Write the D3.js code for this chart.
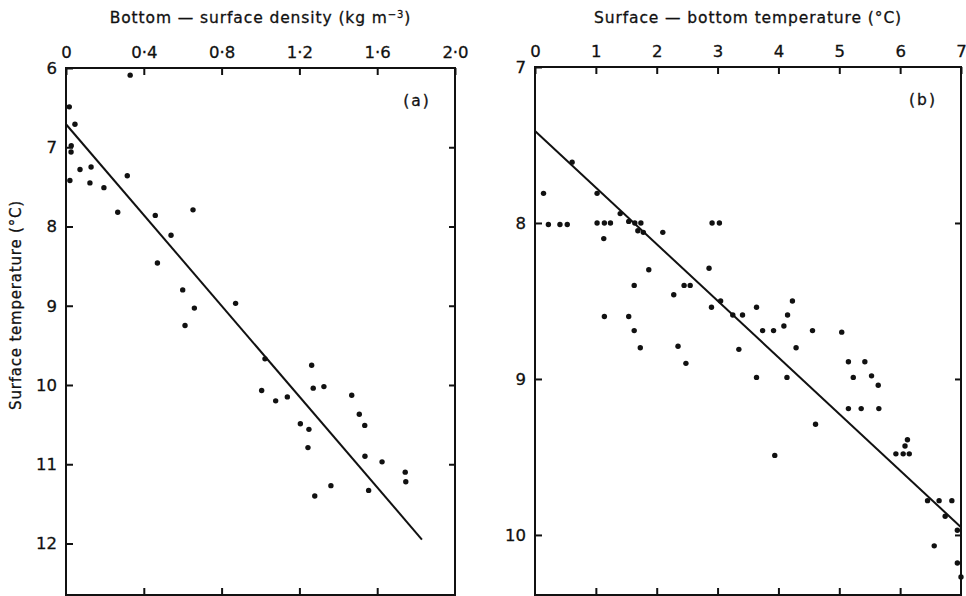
<!DOCTYPE html>
<html>
<head>
<meta charset="utf-8">
<script src="https://cdn.jsdelivr.net/npm/d3@7"></script>
<style>
body { margin: 0; background: #fff; }
svg text { font-family: "DejaVu Sans", sans-serif; fill: #111; stroke: #111; stroke-width: 0.3px; }
</style>
</head>
<body>
<script>
"use strict";

// panel (a): bottom - surface density (kg m-3) against surface temperature (C)
let densityDiff = [0.017, 0.046, 0.027, 0.026, 0.02, 0.072, 0.129, 0.123, 0.195, 0.315,
                   0.266, 0.459, 0.54, 0.653, 0.33, 0.47, 0.60, 0.66, 0.612, 0.872,
                   1.023, 1.263, 1.006, 1.078, 1.138, 1.271, 1.326, 1.469, 1.508, 1.536,
                   1.205, 1.249, 1.244, 1.537, 1.625, 1.744, 1.747, 1.362, 1.279, 1.556];
let surfTempA   = [6.49, 6.71, 6.98, 7.06, 7.42, 7.28, 7.25, 7.45, 7.51, 7.36,
                   7.82, 7.86, 8.11, 7.79, 6.09, 8.46, 8.8, 9.03, 9.25, 8.97,
                   9.67, 9.75, 10.07, 10.20, 10.15, 10.04, 10.02, 10.13, 10.37, 10.51,
                   10.49, 10.56, 10.79, 10.90, 10.97, 11.10, 11.22, 11.27, 11.40, 11.33];
let fitAx = [0, 1.83];
let fitAy = [6.71, 11.95];
let densityTicks = [0, 0.4, 0.8, 1.2, 1.6, 2.0];
let tempTicksA = [6, 7, 8, 9, 10, 11, 12];

// panel (b): surface - bottom temperature (C) against surface temperature (C)
let tempDiff  = [0.61, 0.14, 0.22, 0.41, 0.53, 1.02, 1.02, 1.14, 1.24, 1.13,
                 1.40, 1.54, 1.64, 1.74, 1.69, 1.78, 2.10, 2.91, 3.03, 1.87,
                 1.63, 2.86, 2.45, 2.55, 2.28, 2.90, 3.05, 1.14, 1.54,
                 3.25, 3.41, 3.64, 4.23, 3.74, 3.92, 4.09, 4.15, 3.35, 4.29,
                 4.56, 5.04, 3.64, 4.14, 5.15, 5.42, 5.23, 5.53, 5.64, 5.15,
                 5.36, 5.65, 4.61, 3.94, 5.93, 6.05, 6.15, 6.08, 6.12, 6.45,
                 6.64, 6.85, 6.74, 6.94, 6.56, 6.94, 7.0,
                 1.63, 1.73, 2.35, 2.48];
let surfTempB = [7.61, 7.81, 8.01, 8.01, 8.01, 7.81, 8.0, 8.0, 8.0, 8.10,
                 7.94, 7.99, 8.00, 8.00, 8.05, 8.06, 8.06, 8.0, 8.0, 8.30,
                 8.40, 8.29, 8.40, 8.40, 8.46, 8.54, 8.50, 8.60, 8.60,
                 8.59, 8.59, 8.54, 8.50, 8.69, 8.69, 8.66, 8.59, 8.81, 8.80,
                 8.69, 8.70, 8.99, 8.99, 8.89, 8.89, 8.99, 8.98, 9.04, 9.19,
                 9.19, 9.19, 9.29, 9.49, 9.48, 9.48, 9.48, 9.43, 9.39, 9.78,
                 9.78, 9.78, 9.88, 9.97, 10.07, 10.18, 10.27,
                 8.69, 8.80, 8.79, 8.90];
let fitBx = [0, 7];
let fitBy = [7.41, 9.95];
let diffTicks = [0, 1, 2, 3, 4, 5, 6, 7];
let tempTicksB = [7, 8, 9, 10];

let width = 966, height = 596;

let svg = d3.select("body").append("svg")
    .attr("width", width)
    .attr("height", height);

function fmtDecimal(d) {
    // old style raised decimal point
    return d === 0 ? "0" : d3.format(".1f")(d).replace(".", "\u00b7");
}

function styleAxis(g, fontSize) {
    g.select(".domain").remove();
    g.attr("font-family", null).attr("font-size", fontSize);
    g.selectAll("line").attr("stroke", "#111").attr("stroke-width", 2);
}

function panel(cfg) {
    let x = d3.scaleLinear().domain(cfg.xDomain).range([cfg.left, cfg.right]);
    let y = d3.scaleLinear().domain(cfg.yDomain).range([cfg.top, cfg.bottom]);
    let g = svg.append("g");

    // top axis with labels, ticks point inward
    g.append("g")
        .attr("transform", "translate(0," + cfg.top + ")")
        .call(d3.axisTop(x).tickValues(cfg.xTicks).tickSize(-7).tickPadding(10).tickFormat(cfg.xFormat))
        .call(a => styleAxis(a, 16.5));

    // bottom ticks only
    g.append("g")
        .attr("transform", "translate(0," + cfg.bottom + ")")
        .call(d3.axisBottom(x).tickValues(cfg.xTicks.slice(1, -1)).tickSize(-7).tickFormat(""))
        .call(a => styleAxis(a, 16));

    // left axis
    g.append("g")
        .attr("transform", "translate(" + cfg.left + ",0)")
        .call(d3.axisLeft(y).tickValues(cfg.yTicks).tickSize(-7).tickPadding(cfg.yPad).tickFormat(d3.format("d")))
        .call(a => styleAxis(a, 16.5));

    // right ticks only
    g.append("g")
        .attr("transform", "translate(" + cfg.right + ",0)")
        .call(d3.axisRight(y).tickValues(cfg.rightTicks).tickSize(-6).tickFormat(""))
        .call(a => styleAxis(a, 16));

    // frame
    g.append("rect")
        .attr("x", cfg.left)
        .attr("y", cfg.top)
        .attr("width", cfg.right - cfg.left)
        .attr("height", cfg.bottom - cfg.top)
        .attr("fill", "none")
        .attr("stroke", "#111")
        .attr("stroke-width", 2);

    // regression line
    let line = d3.line().x(d => x(d[0])).y(d => y(d[1]));
    g.append("path")
        .datum(d3.zip(cfg.fitX, cfg.fitY))
        .attr("d", line)
        .attr("fill", "none")
        .attr("stroke", "#111")
        .attr("stroke-width", 2);

    // points
    g.selectAll("circle")
        .data(d3.zip(cfg.xs, cfg.ys))
        .enter()
        .append("circle")
        .attr("cx", d => x(d[0]))
        .attr("cy", d => y(d[1]))
        .attr("r", 2.7)
        .attr("fill", "#111");

    // title above the top axis
    let title = g.append("text")
        .attr("x", (cfg.left + cfg.right) / 2)
        .attr("y", 23)
        .attr("text-anchor", "middle")
        .attr("font-size", 15.5)
        .attr("letter-spacing", 0.9)
        .text(cfg.title);
    if (cfg.titleSup) {
        title.append("tspan").attr("baseline-shift", "super").attr("font-size", 10).text(cfg.titleSup);
        title.append("tspan").text(")");
    }

    g.append("text")
        .attr("x", cfg.right - 38)
        .attr("y", cfg.top + 38)
        .attr("text-anchor", "middle")
        .attr("font-size", 15.5)
        .attr("letter-spacing", 2)
        .text(cfg.tag);
}

panel({
    left: 66, right: 455, top: 68, bottom: 595,
    xDomain: [0, 2], yDomain: [6, 12.65],
    xTicks: densityTicks, yTicks: tempTicksA, rightTicks: [7, 8, 9, 10, 11],
    xFormat: fmtDecimal, yPad: 9,
    xs: densityDiff, ys: surfTempA, fitX: fitAx, fitY: fitAy,
    title: "Bottom \u2014 surface  density  (kg  m", titleSup: "\u22123",
    tag: "(a)"
});

panel({
    left: 535, right: 961, top: 67, bottom: 595,
    xDomain: [0, 7], yDomain: [7, 10.385],
    xTicks: diffTicks, yTicks: tempTicksB, rightTicks: [8, 9, 10],
    xFormat: d3.format("d"), yPad: 9,
    xs: tempDiff, ys: surfTempB, fitX: fitBx, fitY: fitBy,
    title: "Surface \u2014 bottom  temperature  (\u00b0C)",
    tag: "(b)"
});

// shared y axis label
svg.append("text")
    .attr("transform", "translate(21,305) rotate(-90)")
    .attr("text-anchor", "middle")
    .attr("font-size", 15)
    .attr("letter-spacing", 0.8)
    .text("Surface temperature (\u00b0C)");

</script>
</body>
</html>
